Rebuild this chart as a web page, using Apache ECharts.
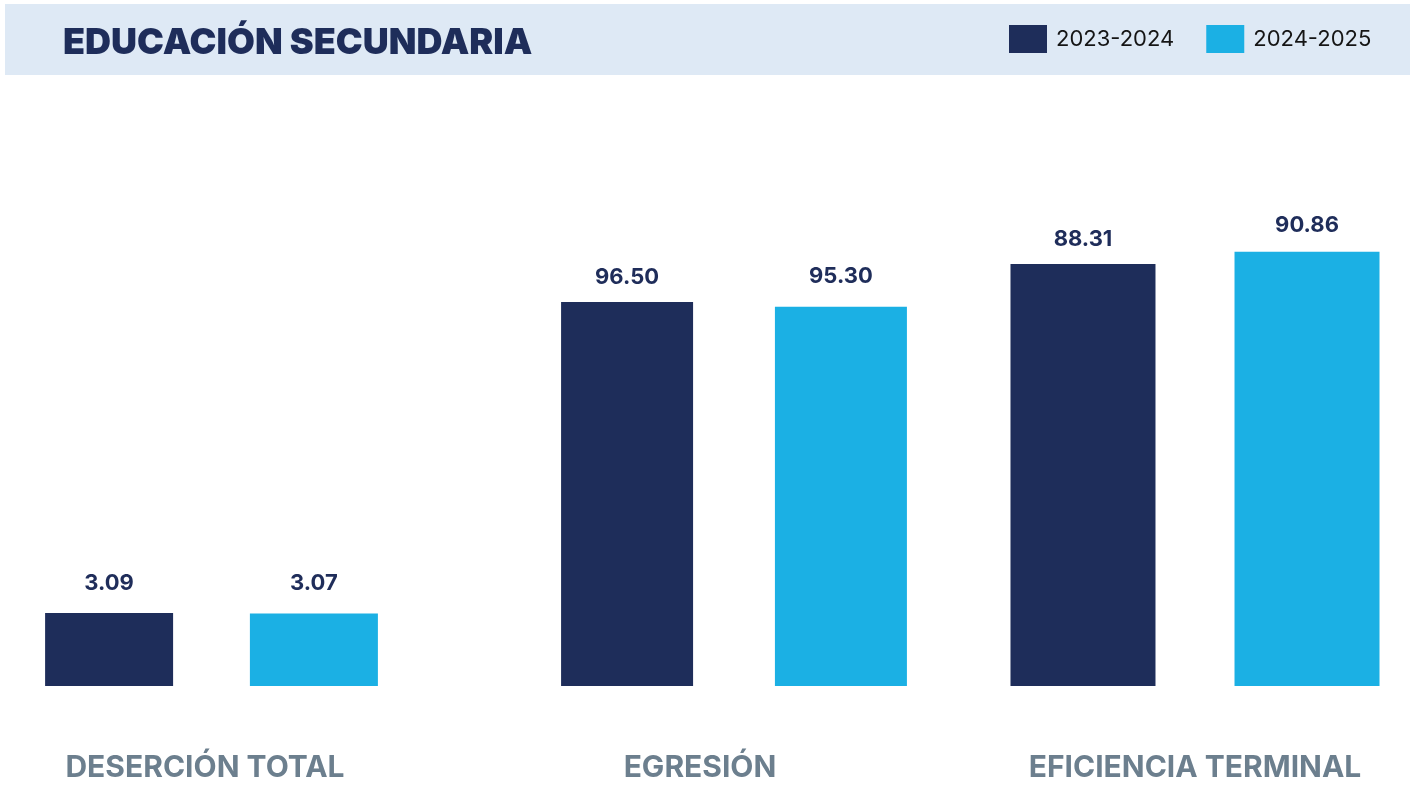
<!DOCTYPE html>
<html>
<head>
<meta charset="utf-8">
<script src="https://cdn.jsdelivr.net/npm/echarts@6/dist/echarts.min.js"></script>
<style>
html,body{margin:0;padding:0;background:#fff;}
#c{width:1415px;height:787px;}
</style>
</head>
<body>
<div id="c"></div>
<script>
const titleText = 'EDUCACIÓN SECUNDARIA';
const categories = ['DESERCIÓN TOTAL', 'EGRESIÓN', 'EFICIENCIA TERMINAL'];
const seriesNames = ['2023-2024', '2024-2025'];
const values2023 = [3.09, 96.50, 88.31];
const values2024 = [3.07, 95.30, 90.86];

const colors = ['#1e2d5a', '#1bb0e4'];
const FONT = 'Inter, "Noto Sans", sans-serif';

// per-panel layout (each indicator drawn on its own scale, as in the source)
const panels = [
  { left: 11.5, yMax: 24.8, barWidth: 128, barGap: '60%', labelShift: 13, dist: [19, 19] },
  { left: 534, yMax: 147.3, barWidth: 132, barGap: '62%', labelShift: 68, dist: [14, 19] },
  { left: 995, yMax: 122.6, barWidth: 145, barGap: '54.5%', labelShift: 0, dist: [14, 15] }
];

const grids = [], xAxes = [], yAxes = [], series = [];
panels.forEach((p, i) => {
  grids.push({ left: p.left, width: 400, top: 100, bottom: 101 });
  xAxes.push({
    type: 'category', gridIndex: i, data: [categories[i]],
    axisLine: { show: false }, axisTick: { show: false },
    axisLabel: {
      margin: 67, fontSize: 30, fontWeight: 700, color: '#6c7f8e',
      fontFamily: FONT, padding: [0, p.labelShift, 0, 0]
    }
  });
  yAxes.push({ type: 'value', gridIndex: i, min: 0, max: p.yMax, show: false, splitLine: { show: false } });
  const vals = [values2023[i], values2024[i]];
  seriesNames.forEach((nm, s) => {
    series.push({
      type: 'bar', name: nm, xAxisIndex: i, yAxisIndex: i,
      data: [vals[s]], barWidth: p.barWidth, barGap: p.barGap,
      itemStyle: { color: colors[s] },
      label: {
        show: true, position: 'top', distance: p.dist[s],
        formatter: d => d.value.toFixed(2),
        fontSize: 22, fontWeight: 700, color: '#1f2d5a', fontFamily: FONT
      }
    });
  });
});

const chart = echarts.init(document.getElementById('c'), null, { renderer: 'canvas' });
chart.setOption({
  animation: false,
  backgroundColor: '#ffffff',
  graphic: [{
    type: 'rect', left: 5, top: 4, z: -10,
    shape: { width: 1405, height: 71 },
    style: { fill: '#dee9f5' }
  }],
  title: {
    text: titleText, left: 58, top: 20,
    textStyle: { fontSize: 36, fontWeight: 900, color: '#1e2d5a', fontFamily: FONT }
  },
  legend: {
    data: seriesNames, left: 1009, top: 25, padding: 0, icon: 'rect',
    itemWidth: 38, itemHeight: 28, itemGap: 32,
    textStyle: { fontSize: 22, color: '#151515', fontFamily: FONT, padding: [5, 0, 0, 4] }
  },
  grid: grids, xAxis: xAxes, yAxis: yAxes, series: series
});
</script>
</body>
</html>
